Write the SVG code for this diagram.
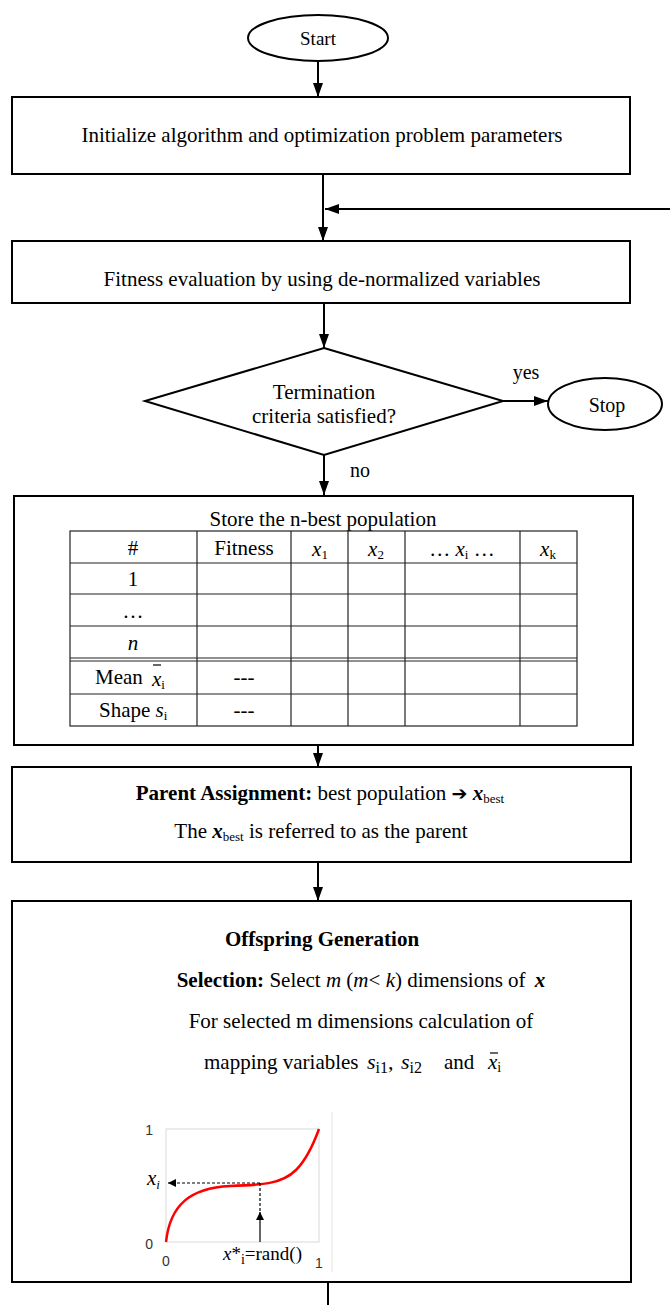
<svg xmlns="http://www.w3.org/2000/svg" width="670" height="1305" viewBox="0 0 670 1305">
<defs>
<marker id="ah" viewBox="0 0 14 10" refX="14" refY="5" markerWidth="14" markerHeight="10" markerUnits="userSpaceOnUse" orient="auto">
<path d="M0,0 L14,5 L0,10 z" fill="#000"/>
</marker>
<marker id="ahs" viewBox="0 0 10 10" refX="10" refY="5" markerWidth="9" markerHeight="8" markerUnits="userSpaceOnUse" orient="auto">
<path d="M0,0 L10,5 L0,10 z" fill="#000"/>
</marker>
</defs>
<style>
.box{fill:#fff;stroke:#000;stroke-width:2}
.grid{fill:none;stroke:#222;stroke-width:1.2}
.con{fill:none;stroke:#000;stroke-width:2}
text{font-family:"Liberation Serif","Times New Roman",serif;fill:#000}
.t{font-size:21px;text-anchor:middle}
.tb{font-size:21px;text-anchor:middle}
.sub{font-size:13px}
.ax{font-family:"Liberation Sans",Arial,sans-serif;font-size:14px;fill:#333}
</style>
<rect width="670" height="1305" fill="#fff"/>

<g id="connectors">
<line class="con" x1="318" y1="62" x2="318" y2="97" marker-end="url(#ah)"/>
<line class="con" x1="323" y1="174" x2="323" y2="241" marker-end="url(#ah)"/>
<line class="con" x1="670" y1="209" x2="325" y2="209" marker-end="url(#ah)"/>
<line class="con" x1="324" y1="303" x2="324" y2="348" marker-end="url(#ah)"/>
<line class="con" x1="503" y1="401" x2="548" y2="401" marker-end="url(#ah)"/>
<line class="con" x1="324" y1="455" x2="324" y2="495" marker-end="url(#ah)"/>
<line class="con" x1="318" y1="745" x2="318" y2="767" marker-end="url(#ah)"/>
<line class="con" x1="318" y1="862" x2="318" y2="901" marker-end="url(#ah)"/>
<line class="con" x1="328" y1="1282" x2="328" y2="1305"/>
<text x="526" y="379" class="t" style="font-size:20px">yes</text>
<text x="360" y="477" class="t" style="font-size:20px">no</text>
</g>

<g id="start">
<ellipse class="box" cx="318" cy="38" rx="70" ry="23"/>
<text x="318" y="45" class="t" style="font-size:19px">Start</text>
</g>

<g id="init">
<rect class="box" x="12" y="97" width="618" height="77"/>
<text x="322" y="142" class="t">Initialize algorithm and optimization problem parameters</text>
</g>

<g id="fitness">
<rect class="box" x="12" y="241" width="618" height="62"/>
<text x="322" y="286" class="t">Fitness evaluation by using de-normalized variables</text>
</g>

<g id="decision">
<polygon class="box" points="324,348 503,401 324,455 145,401"/>
<text x="324" y="399" class="t">Termination</text>
<text x="324" y="423" class="t">criteria satisfied?</text>
</g>

<g id="stop">
<ellipse class="box" cx="605" cy="404" rx="57" ry="26"/>
<text x="607" y="412" class="t" style="font-size:20px">Stop</text>
</g>

<g id="store">
<rect class="box" x="14" y="496" width="619" height="249"/>
<text x="323" y="526" class="t">Store the n-best population</text>
<g class="grid">
<rect x="70" y="531" width="507" height="195"/>
<line x1="70" y1="563" x2="577" y2="563"/>
<line x1="70" y1="594" x2="577" y2="594"/>
<line x1="70" y1="626" x2="577" y2="626"/>
<line x1="70" y1="658" x2="577" y2="658"/>
<line x1="70" y1="661" x2="577" y2="661"/>
<line x1="70" y1="694" x2="577" y2="694"/>
<line x1="197" y1="531" x2="197" y2="726"/>
<line x1="291" y1="531" x2="291" y2="726"/>
<line x1="348" y1="531" x2="348" y2="726"/>
<line x1="405" y1="531" x2="405" y2="726"/>
<line x1="520" y1="531" x2="520" y2="726"/>
</g>
<text x="133" y="555" class="tb">#</text>
<text x="244" y="555" class="tb">Fitness</text>
<text x="320" y="556" class="tb"><tspan font-style="italic">x</tspan><tspan class="sub" dy="3">1</tspan></text>
<text x="376" y="556" class="tb"><tspan font-style="italic">x</tspan><tspan class="sub" dy="3">2</tspan></text>
<text x="462" y="556" class="tb">…  <tspan font-style="italic">x</tspan><tspan class="sub" dy="3">i</tspan><tspan dy="-3"> …</tspan></text>
<text x="548" y="556" class="tb"><tspan font-style="italic">x</tspan><tspan class="sub" dy="3">k</tspan></text>
<text x="133" y="586" class="tb">1</text>
<text x="133" y="618" class="tb">…</text>
<text x="133" y="650" class="tb" font-style="italic">n</text>
<text x="95" y="684" style="font-size:21px">Mean</text>
<text x="152" y="686" style="font-size:21px"><tspan font-style="italic">x</tspan><tspan class="sub" dy="3">i</tspan></text>
<line x1="153" y1="665" x2="161" y2="665" stroke="#000" stroke-width="1.2"/>
<text x="244" y="684" class="tb">---</text>
<text x="99" y="717" style="font-size:21px">Shape <tspan font-style="italic">s</tspan><tspan class="sub" dy="3">i</tspan></text>
<text x="244" y="717" class="tb">---</text>
</g>

<g id="parent">
<rect class="box" x="12" y="767" width="619" height="95"/>
<text x="320" y="800" class="t"><tspan font-weight="bold">Parent Assignment:</tspan> best population <tspan font-family="'DejaVu Sans',sans-serif" font-size="19" font-weight="bold">➔</tspan> <tspan font-weight="bold" font-style="italic">x</tspan><tspan class="sub" dy="3">best</tspan></text>
<text x="321" y="838" class="t">The <tspan font-weight="bold" font-style="italic">x</tspan><tspan class="sub" dy="3">best</tspan><tspan dy="-3"> is referred to as the parent</tspan></text>
</g>

<g id="offspring">
<rect class="box" x="12" y="901" width="619" height="381"/>
<text x="322" y="946" class="t" style="font-weight:bold">Offspring Generation</text>
<text x="361" y="987" class="t"><tspan font-weight="bold">Selection:</tspan> Select <tspan font-style="italic">m</tspan> (<tspan font-style="italic">m</tspan>&lt; <tspan font-style="italic">k</tspan>) dimensions of <tspan dx="4" font-weight="bold" font-style="italic">x</tspan></text>
<text x="361" y="1028" class="t">For selected m dimensions calculation of</text>
<text x="204" y="1069" style="font-size:21px">mapping variables</text>
<text x="367" y="1069" style="font-size:22px"><tspan font-style="italic">s</tspan><tspan font-size="16" dy="4">i1</tspan><tspan dy="-4">,</tspan></text>
<text x="401" y="1069" style="font-size:22px"><tspan font-style="italic">s</tspan><tspan font-size="16" dy="4">i2</tspan></text>
<text x="444" y="1069" style="font-size:21px">and</text>
<text x="488" y="1069" style="font-size:21px"><tspan font-style="italic">x</tspan><tspan font-size="14" dy="3">i</tspan></text>
<line x1="490" y1="1053" x2="498" y2="1053" stroke="#000" stroke-width="1.2"/>

<g id="chart">
<line x1="332" y1="1112" x2="332" y2="1272" stroke="#e6e6e6" stroke-width="1"/>
<rect x="166" y="1129" width="153" height="113" fill="none" stroke="#d9d9d9" stroke-width="1"/>
<path d="M166,1242 C170,1205 190,1188 230,1186 C262,1185 282,1184 296,1170 C308,1158 315,1140 319,1129" fill="none" stroke="#ff0000" stroke-width="2.5"/>
<line x1="260" y1="1183" x2="168" y2="1183" stroke="#000" stroke-width="1.2" stroke-dasharray="3,2" marker-end="url(#ahs)"/>
<line x1="260" y1="1183" x2="260" y2="1215" stroke="#000" stroke-width="1.2" stroke-dasharray="3,2"/>
<line x1="260" y1="1242" x2="260" y2="1212" stroke="#000" stroke-width="1.2" marker-end="url(#ahs)"/>
<text x="153" y="1135" class="ax" text-anchor="end">1</text>
<text x="153" y="1249" class="ax" text-anchor="end">0</text>
<text x="166" y="1266" class="ax" text-anchor="middle">0</text>
<text x="319" y="1268" class="ax" text-anchor="middle">1</text>
<text x="147" y="1185" style="font-size:21px" font-style="italic">x<tspan font-size="13" dy="4">i</tspan></text>
<text x="223" y="1260" style="font-size:19px"><tspan font-style="italic">x</tspan>*<tspan font-size="14" dy="4">i</tspan><tspan dy="-4">=rand()</tspan></text>
</g>
</g>
</svg>
